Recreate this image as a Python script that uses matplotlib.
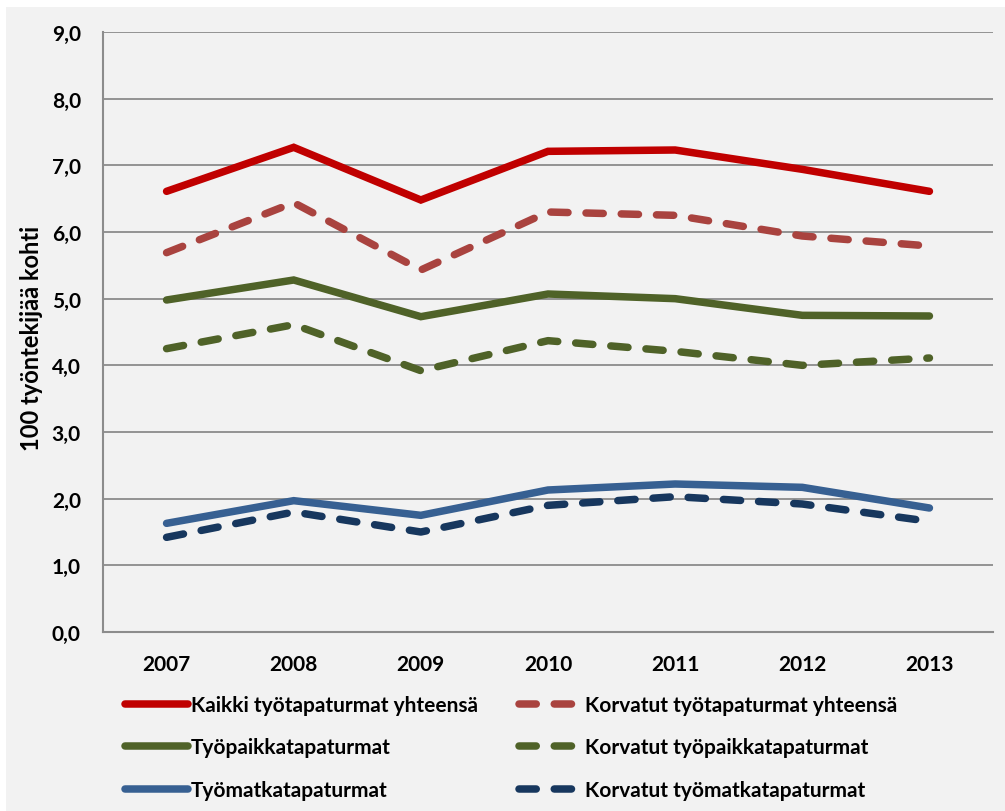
import matplotlib
matplotlib.use("Agg")
import matplotlib.pyplot as plt
from matplotlib.patches import Rectangle

years = ["2007", "2008", "2009", "2010", "2011", "2012", "2013"]
kaikki = [6.61, 7.27, 6.48, 7.21, 7.23, 6.94, 6.61]
korv_kaikki = [5.69, 6.44, 5.43, 6.30, 6.25, 5.94, 5.79]
tyopaikka = [4.98, 5.28, 4.73, 5.07, 5.00, 4.75, 4.74]
korv_tyopaikka = [4.25, 4.61, 3.92, 4.37, 4.21, 4.00, 4.11]
tyomatka = [1.63, 1.97, 1.75, 2.13, 2.22, 2.17, 1.86]
korv_tyomatka = [1.42, 1.80, 1.50, 1.90, 2.03, 1.92, 1.66]

labels = ["Kaikki työtapaturmat yhteensä", "Työpaikkatapaturmat", "Työmatkatapaturmat",
          "Korvatut työtapaturmat yhteensä", "Korvatut työpaikkatapaturmat",
          "Korvatut työmatkatapaturmat"]
yticks = [0, 1, 2, 3, 4, 5, 6, 7, 8, 9]
ytick_labels = ["0,0", "1,0", "2,0", "3,0", "4,0", "5,0", "6,0", "7,0", "8,0", "9,0"]

plt.rcParams['font.family'] = ['Lato', 'DejaVu Sans']

W, H = 1005, 812
fig = plt.figure(figsize=(W / 100, H / 100), dpi=100, facecolor="white")
fig.patches.append(Rectangle((6 / W, 0), 1 - 6 / W, 1 - 8 / H, transform=fig.transFigure,
                             facecolor="#F2F2F2", edgecolor="none", zorder=-10))

ax = fig.add_axes([103 / W, (H - 633) / H, (993 - 103) / W, (633 - 33) / H])
ax.patch.set_alpha(0)

x = list(range(len(years)))
lw = 5.4
dash = (2.3, 2.4)
series = [
    (kaikki, "#C00000", "-"),
    (tyopaikka, "#4F6228", "-"),
    (tyomatka, "#376092", "-"),
    (korv_kaikki, "#A9433F", "--"),
    (korv_tyopaikka, "#4F6228", "--"),
    (korv_tyomatka, "#17375E", "--"),
]
handles = []
for (vals, col, ls), lab in zip(series, labels):
    if ls == "-":
        ln, = ax.plot(x, vals, color=col, lw=lw, solid_capstyle="round",
                      solid_joinstyle="miter", label=lab, zorder=3)
    else:
        ln, = ax.plot(x, vals, color=col, lw=lw, dashes=dash, dash_capstyle="round",
                      label=lab, zorder=3)
    handles.append(ln)

ax.set_xlim(-0.5, len(years) - 0.5)
ax.set_ylim(0, 9)
ax.set_yticks(yticks)
ax.set_yticklabels(ytick_labels)
ax.set_xticks(x)
ax.set_xticklabels(years)
ax.grid(axis="y", color="#8C8C8C", lw=1.3, zorder=1)
ax.set_axisbelow(True)
ax.tick_params(axis="both", length=0, labelsize=15)
ax.tick_params(axis="y", pad=16)
ax.tick_params(axis="x", pad=16)
for t in ax.get_xticklabels() + ax.get_yticklabels():
    t.set_fontweight("bold")
for s in ["top", "right"]:
    ax.spines[s].set_visible(False)
for s in ["left", "bottom"]:
    ax.spines[s].set_color("#8C8C8C")
    ax.spines[s].set_linewidth(1.5)

fig.text(32 / W, (H - 338) / H, "100 työntekijää kohti", rotation=90, ha="center",
         va="center", fontsize=17, fontweight="bold")

leg = fig.legend(handles=handles, labels=labels, ncol=2, loc="upper left",
                 bbox_to_anchor=(125 / W, (H - 696) / H), frameon=False,
                 prop={"size": 15, "weight": "bold"}, handlelength=3.0, handletextpad=0.15,
                 columnspacing=2.0, labelspacing=1.08, borderaxespad=0, borderpad=0)

fig.savefig("out.png", dpi=100, facecolor=fig.get_facecolor())
